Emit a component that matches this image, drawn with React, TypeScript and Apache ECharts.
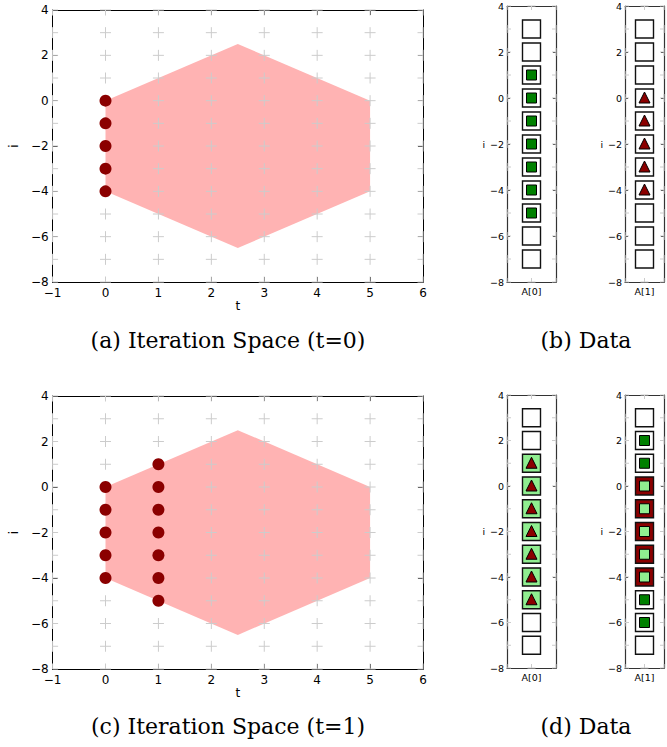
import React, { useEffect, useRef } from "react";
import * as echarts from "echarts";

// ---- data ----
const hexT = [0, 2.5, 5, 5, 2.5, 0];
const hexI = [0, 2.5, 0, -4, -6.5, -4];

const crossT = [-1, 0, 1, 2, 3, 4, 5, 6];
const crossI = [-8, -7, -6, -5, -4, -3, -2, -1, 0, 1, 2, 3, 4];
const dataCrossX = [-1, 0, 1];

const dotsT0T = [0, 0, 0, 0, 0];
const dotsT0I = [0, -1, -2, -3, -4];
const dotsT1T = [0, 0, 0, 0, 0, 1, 1, 1, 1, 1, 1, 1];
const dotsT1I = [0, -1, -2, -3, -4, 1, 0, -1, -2, -3, -4, -5];

const rows = [3, 2, 1, 0, -1, -2, -3, -4, -5, -6, -7];
// fill: w = white, l = light green, r = dark red ; mark: g = green square, l = light green square, t = triangle
const bA0Fill = ["w", "w", "w", "w", "w", "w", "w", "w", "w", "w", "w"];
const bA0Mark = ["", "", "g", "g", "g", "g", "g", "g", "g", "", ""];
const bA1Fill = ["w", "w", "w", "w", "w", "w", "w", "w", "w", "w", "w"];
const bA1Mark = ["", "", "", "t", "t", "t", "t", "t", "", "", ""];
const dA0Fill = ["w", "w", "l", "l", "l", "l", "l", "l", "l", "w", "w"];
const dA0Mark = ["", "", "t", "t", "t", "t", "t", "t", "t", "", ""];
const dA1Fill = ["w", "w", "w", "r", "r", "r", "r", "r", "w", "w", "w"];
const dA1Mark = ["", "g", "g", "l", "l", "l", "l", "l", "g", "g", ""];

const captions = [
  "(a) Iteration Space (t=0)",
  "(b) Data",
  "(c) Iteration Space (t=1)",
  "(d) Data",
];

// ---- styles ----
const FONT = "DejaVu Sans";
const SERIF = "DejaVu Serif";
const FILLS: Record<string, string> = { w: "#ffffff", l: "#90ee90", r: "#8b0000" };
const minus = (v: number) => String(v).replace("-", "\u2212");

const grids = [
  { left: 47, top: 10, width: 376, height: 272 },
  { left: 47, top: 396, width: 376, height: 273 },
  { left: 507, top: 6, width: 49, height: 276 },
  { left: 625, top: 6, width: 49, height: 276 },
  { left: 507, top: 395, width: 49, height: 273 },
  { left: 625, top: 395, width: 49, height: 273 },
];

function mainAxes(g: number) {
  const line = { show: true, onZero: false, lineStyle: { color: "#000", width: 1 } };
  const tick = { show: true, inside: true, length: 5, lineStyle: { color: "#000", width: 1 } };
  const xs = [
    {
      type: "value", gridIndex: g, position: "bottom", min: -1, max: 6, interval: 1,
      axisLine: line, axisTick: tick, splitLine: { show: false },
      axisLabel: { show: true, fontFamily: FONT, fontSize: 12, color: "#000", margin: 5, formatter: minus, showMinLabel: true, showMaxLabel: true },
      name: "t", nameLocation: "middle", nameGap: 18,
      nameTextStyle: { fontFamily: FONT, fontSize: 12, color: "#000" },
    },
    {
      type: "value", gridIndex: g, position: "top", min: -1, max: 6, interval: 1,
      axisLine: line, axisTick: tick, splitLine: { show: false }, axisLabel: { show: false },
    },
  ];
  const ys = [
    {
      type: "value", gridIndex: g, position: "left", min: -8, max: 4, interval: 2,
      axisLine: line, axisTick: tick, splitLine: { show: false },
      axisLabel: { show: true, fontFamily: FONT, fontSize: 12, color: "#000", margin: 4, formatter: minus, showMinLabel: true, showMaxLabel: true },
      name: "i", nameLocation: "middle", nameGap: 29, nameRotate: 90,
      nameTextStyle: { fontFamily: FONT, fontSize: 12, color: "#000" },
    },
    {
      type: "value", gridIndex: g, position: "right", min: -8, max: 4, interval: 2,
      axisLine: line, axisTick: tick, splitLine: { show: false }, axisLabel: { show: false },
    },
  ];
  return { xs, ys };
}

function dataAxes(g: number, label: string) {
  const line = { show: true, onZero: false, lineStyle: { color: "#333", width: 1.2 } };
  const tick = { show: true, inside: true, length: 3, lineStyle: { color: "#000", width: 1 } };
  const xs = [
    {
      type: "value", gridIndex: g, position: "bottom", min: -1, max: 1, interval: 1,
      axisLine: line, axisTick: { show: false }, splitLine: { show: false },
      axisLabel: {
        show: true, fontFamily: FONT, fontSize: 9.5, color: "#000", margin: 4,
        formatter: (v: number) => (v === 0 ? label : ""),
      },
    },
    {
      type: "value", gridIndex: g, position: "top", min: -1, max: 1, interval: 1,
      axisLine: line, axisTick: { show: false }, splitLine: { show: false }, axisLabel: { show: false },
    },
  ];
  const ys = [
    {
      type: "value", gridIndex: g, position: "left", min: -8, max: 4, interval: 2,
      axisLine: line, axisTick: tick, splitLine: { show: false },
      axisLabel: { show: true, fontFamily: FONT, fontSize: 9.5, color: "#000", margin: 3, formatter: minus, showMinLabel: true, showMaxLabel: true },
      name: "i", nameLocation: "middle", nameGap: 14, nameRotate: 0,
      nameTextStyle: { fontFamily: FONT, fontSize: 9.5, color: "#000" },
    },
    {
      type: "value", gridIndex: g, position: "right", min: -8, max: 4, interval: 2,
      axisLine: line, axisTick: tick, splitLine: { show: false }, axisLabel: { show: false },
    },
  ];
  return { xs, ys };
}

function crossSeries(g: number, ts: number[], is: number[], size: number, z: number) {
  const data: number[][] = [];
  ts.forEach((t) => is.forEach((i) => data.push([t, i])));
  return {
    type: "custom", xAxisIndex: 2 * g, yAxisIndex: 2 * g, data, z, silent: true,
    renderItem: (params: any, api: any) => {
      const p = api.coord([api.value(0), api.value(1)]);
      const cs = params.coordSys;
      const h = size / 2;
      const x1 = Math.max(p[0] - h, cs.x);
      const x2 = Math.min(p[0] + h, cs.x + cs.width);
      const y1 = Math.max(p[1] - h, cs.y);
      const y2 = Math.min(p[1] + h, cs.y + cs.height);
      const st = { stroke: "#cccccc", lineWidth: 1 };
      return {
        type: "group",
        children: [
          { type: "line", shape: { x1, y1: p[1], x2, y2: p[1] }, style: st },
          { type: "line", shape: { x1: p[0], y1, x2: p[0], y2 }, style: st },
        ],
      };
    },
  };
}

function hexSeries(g: number) {
  return {
    type: "custom", xAxisIndex: 2 * g, yAxisIndex: 2 * g, z: 1, silent: true,
    data: hexT.map((t, k) => [t, hexI[k]]),
    renderItem: (params: any, api: any) => {
      if (params.dataIndex !== 0) return null;
      const pts = hexT.map((t, k) => api.coord([t, hexI[k]]));
      return { type: "polygon", shape: { points: pts }, style: { fill: "#ffb3b3" } };
    },
  };
}

function dotSeries(g: number, ts: number[], is: number[]) {
  return {
    type: "scatter", xAxisIndex: 2 * g, yAxisIndex: 2 * g, z: 5, silent: true,
    symbol: "circle", symbolSize: 12,
    itemStyle: { color: "#8b0000", opacity: 1 },
    data: ts.map((t, k) => [t, is[k]]),
  };
}

function cellSeries(g: number, fills: string[], marks: string[]) {
  return {
    type: "custom", xAxisIndex: 2 * g, yAxisIndex: 2 * g, z: 4, silent: true,
    data: rows.map((r) => [0, r]),
    renderItem: (params: any, api: any) => {
      const idx = params.dataIndex;
      const [cx, cy] = api.coord([api.value(0), api.value(1)]);
      const children: any[] = [
        {
          type: "rect",
          shape: { x: cx - 9, y: cy - 9, width: 18, height: 18 },
          style: { fill: FILLS[fills[idx]], stroke: "#111", lineWidth: 1.4 },
        },
      ];
      const m = marks[idx];
      if (m === "g" || m === "l") {
        children.push({
          type: "rect",
          shape: { x: cx - 5, y: cy - 5, width: 10, height: 10 },
          style: { fill: m === "g" ? "#008000" : "#90ee90", stroke: "#000", lineWidth: 1 },
        });
      } else if (m === "t") {
        children.push({
          type: "polygon",
          shape: { points: [[cx, cy - 6], [cx - 5.5, cy + 5], [cx + 5.5, cy + 5]] },
          style: { fill: "#8b0000", stroke: "#000", lineWidth: 1 },
        });
      }
      return { type: "group", children };
    },
  };
}

export default function App() {
  const ref = useRef<HTMLDivElement>(null);
  useEffect(() => {
    if (!ref.current) return;
    const chart = echarts.init(ref.current, null, { renderer: "svg" });
    const axes = [
      mainAxes(0),
      mainAxes(1),
      dataAxes(2, "A[0]"),
      dataAxes(3, "A[1]"),
      dataAxes(4, "A[0]"),
      dataAxes(5, "A[1]"),
    ];
    const xAxis: any[] = [];
    const yAxis: any[] = [];
    axes.forEach((a) => {
      xAxis.push(...a.xs);
      yAxis.push(...a.ys);
    });
    const capStyle = { fontFamily: SERIF, fontSize: 22, fill: "#000", align: "center", verticalAlign: "middle", textAlign: "center", textVerticalAlign: "middle" };
    const option: any = {
      animation: false,
      backgroundColor: "#fff",
      grid: grids.map((g) => ({ ...g, containLabel: false, show: false })),
      xAxis,
      yAxis,
      series: [
        hexSeries(0),
        crossSeries(0, crossT, crossI, 11, 2),
        dotSeries(0, dotsT0T, dotsT0I),
        hexSeries(1),
        crossSeries(1, crossT, crossI, 11, 2),
        dotSeries(1, dotsT1T, dotsT1I),
        crossSeries(2, dataCrossX, crossI, 8, 1),
        cellSeries(2, bA0Fill, bA0Mark),
        crossSeries(3, dataCrossX, crossI, 8, 1),
        cellSeries(3, bA1Fill, bA1Mark),
        crossSeries(4, dataCrossX, crossI, 8, 1),
        cellSeries(4, dA0Fill, dA0Mark),
        crossSeries(5, dataCrossX, crossI, 8, 1),
        cellSeries(5, dA1Fill, dA1Mark),
      ],
      graphic: [
        { type: "text", x: 228, y: 340, style: { ...capStyle, text: captions[0] } },
        { type: "text", x: 586, y: 340, style: { ...capStyle, text: captions[1] } },
        { type: "text", x: 228, y: 726, style: { ...capStyle, text: captions[2] } },
        { type: "text", x: 586, y: 726, style: { ...capStyle, text: captions[3] } },
      ],
    };
    chart.setOption(option);
    return () => chart.dispose();
  }, []);
  return (
    <div
      ref={ref}
      style={{ position: "absolute", left: 0, top: 0, width: 667, height: 747, background: "#fff" }}
    />
  );
}
